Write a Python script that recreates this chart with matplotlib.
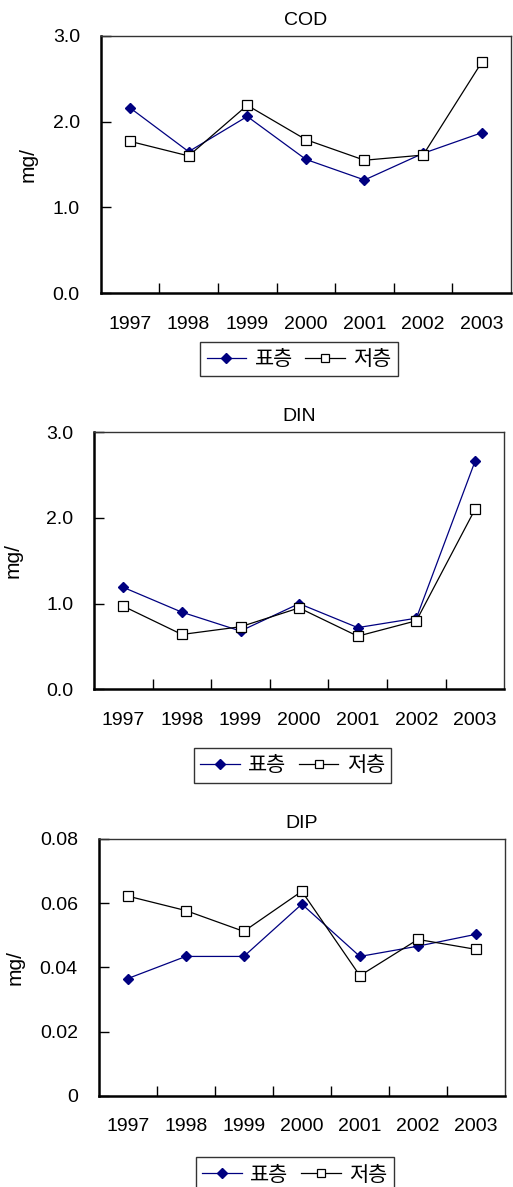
import matplotlib
matplotlib.use("Agg")
import matplotlib.pyplot as plt
from matplotlib.ticker import FixedLocator

plt.rcParams['font.family'] = ['Liberation Sans', 'Noto Sans CJK KR', 'DejaVu Sans']

years = ["1997", "1998", "1999", "2000", "2001", "2002", "2003"]
series_names = ["표층", "저층"]

cod_surface = [2.16, 1.65, 2.06, 1.56, 1.32, 1.63, 1.87]
cod_bottom = [1.77, 1.60, 2.19, 1.79, 1.55, 1.61, 2.69]

din_surface = [1.19, 0.90, 0.68, 1.00, 0.72, 0.83, 2.66]
din_bottom = [0.97, 0.64, 0.73, 0.95, 0.62, 0.80, 2.10]

dip_surface = [0.0365, 0.0434, 0.0434, 0.0597, 0.0434, 0.0466, 0.0503]
dip_bottom = [0.0622, 0.0577, 0.0512, 0.0637, 0.0374, 0.0487, 0.0456]

panels = [
    ("COD", cod_surface, cod_bottom, (0, 3.0), [0, 1, 2, 3], ["0.0", "1.0", "2.0", "3.0"],
     [0.1963, 0.7529, 0.7998, 0.2170], (0.583, 0.6976), 38),
    ("DIN", din_surface, din_bottom, (0, 3.0), [0, 1, 2, 3], ["0.0", "1.0", "2.0", "3.0"],
     [0.1832, 0.4193, 0.7998, 0.2165], (0.5705, 0.3551), 23),
    ("DIP", dip_surface, dip_bottom, (0, 0.08), [0, 0.02, 0.04, 0.06, 0.08],
     ["0", "0.02", "0.04", "0.06", "0.08"],
     [0.1924, 0.0769, 0.7920, 0.2163], (0.5748, 0.0105), 25),
]

navy = "#000080"
fig = plt.figure(figsize=(5.13, 11.87), dpi=100)

for title, surf, bott, ylim, yticks, ylabels, rect, legpos, ylab_x in panels:
    ax = fig.add_axes(rect)
    x = list(range(len(years)))
    ax.plot(x, surf, color=navy, lw=0.9, marker="D", markersize=5.5,
            markerfacecolor=navy, markeredgecolor=navy, label=series_names[0])
    ax.plot(x, bott, color="black", lw=0.9, marker="s", markersize=7,
            markerfacecolor="white", markeredgecolor="black", markeredgewidth=0.9,
            label=series_names[1])
    ax.set_xlim(-0.5, len(years) - 0.5)
    ax.set_ylim(*ylim)

    ax.set_xticks(x)
    ax.set_xticklabels(years, fontsize=14)
    ax.xaxis.set_minor_locator(FixedLocator([i + 0.5 for i in range(len(years) - 1)]))
    ax.tick_params(axis="x", which="major", length=0, pad=16)
    ax.tick_params(axis="x", which="minor", direction="in", length=7, width=1, color="black")

    ax.set_yticks(yticks)
    ax.set_yticklabels(ylabels, fontsize=14)
    ax.tick_params(axis="y", direction="in", length=7, width=1, pad=15)

    ax.spines["left"].set_linewidth(1.8)
    ax.spines["bottom"].set_linewidth(1.8)
    ax.spines["top"].set_linewidth(1.0)
    ax.spines["right"].set_linewidth(1.0)
    ax.spines["top"].set_color("#333333")
    ax.spines["right"].set_color("#333333")

    ax.set_title(title, fontsize=14, pad=8)
    ax.set_ylabel("mg/", fontsize=15)
    ax.yaxis.set_label_coords((ylab_x - rect[0] * 513) / (rect[2] * 513), 0.5)

    leg = fig.legend(handles=ax.get_lines(), loc="center", bbox_to_anchor=legpos,
                     ncol=2, frameon=True, fancybox=False,
                     prop={"family": ["Noto Sans CJK KR"], "size": 15},
                     edgecolor="black", handlelength=1.9, handletextpad=0.4,
                     columnspacing=0.6, borderpad=0.3, borderaxespad=0,
                     markerscale=0.85)
    leg.get_frame().set_linewidth(1.0)

fig.savefig("out.png", dpi=100)
